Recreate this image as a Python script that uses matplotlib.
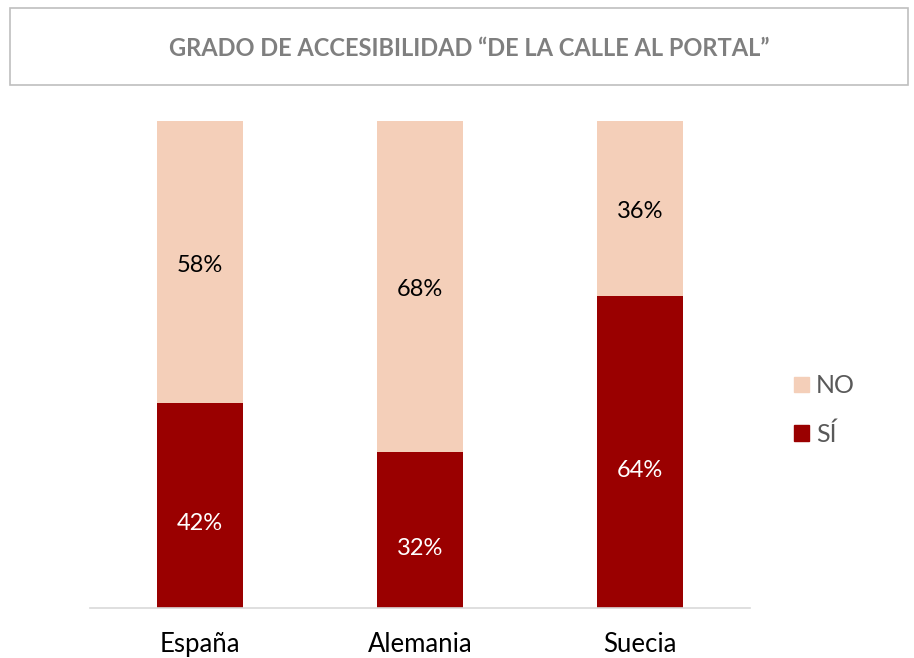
import numpy as np
import matplotlib.pyplot as plt
from matplotlib.patches import Rectangle, Patch

paises = ["España", "Alemania", "Suecia"]
si = [42, 32, 64]
no = [58, 68, 36]

color_si = "#9A0000"
color_no = "#F4CFB9"

plt.rcParams["font.family"] = ["Lato", "DejaVu Sans"]

fig = plt.figure(figsize=(9.14, 6.58), dpi=100)

# caja del titulo
W, H = 914, 658
fig.patches.append(Rectangle((10 / W, 1 - 85 / H), 898 / W, 77 / H,
                             transform=fig.transFigure, fill=False,
                             edgecolor="#BFBFBF", linewidth=1.2))
fig.text(469 / W, 1 - 48 / H, "GRADO DE ACCESIBILIDAD \u201cDE LA CALLE AL PORTAL\u201d",
         ha="center", va="center", fontsize=17, fontweight="bold", color="#7F7F7F")

ax = fig.add_axes([90 / W, 50 / H, 660 / W, 487 / H])
x = np.arange(len(paises))
ancho = 0.395
ax.bar(x, si, ancho, color=color_si, label="SÍ")
ax.bar(x, no, ancho, bottom=si, color=color_no, label="NO")

for i in range(len(paises)):
    ax.annotate(f"{si[i]}%", (x[i], si[i] / 2), xytext=(0, -13), textcoords="offset points",
                ha="center", va="center", fontsize=17, color="white")
    ax.annotate(f"{no[i]}%", (x[i], si[i] + no[i] / 2), xytext=(0, -2), textcoords="offset points",
                ha="center", va="center", fontsize=17, color="black")

ax.set_xlim(-0.5, 2.5)
ax.set_ylim(0, 100)
ax.set_yticks([])
ax.set_xticks(x)
ax.set_xticklabels(paises, fontsize=18.5)
ax.tick_params(axis="x", length=0, pad=17)
for s in ["top", "right", "left"]:
    ax.spines[s].set_visible(False)
ax.spines["bottom"].set_color("#D9D9D9")
ax.spines["bottom"].set_linewidth(1.2)

handles = [Patch(color=color_no, label="NO"), Patch(color=color_si, label="SÍ")]
leg = fig.legend(handles=handles, loc="center left", bbox_to_anchor=(771 / W, 1 - 410 / H),
                 frameon=False, fontsize=18, handlelength=0.6, handleheight=0.6,
                 handletextpad=0.3, labelspacing=1.0)
for t in leg.get_texts():
    t.set_color("#595959")

fig.savefig("out.png", dpi=100)
